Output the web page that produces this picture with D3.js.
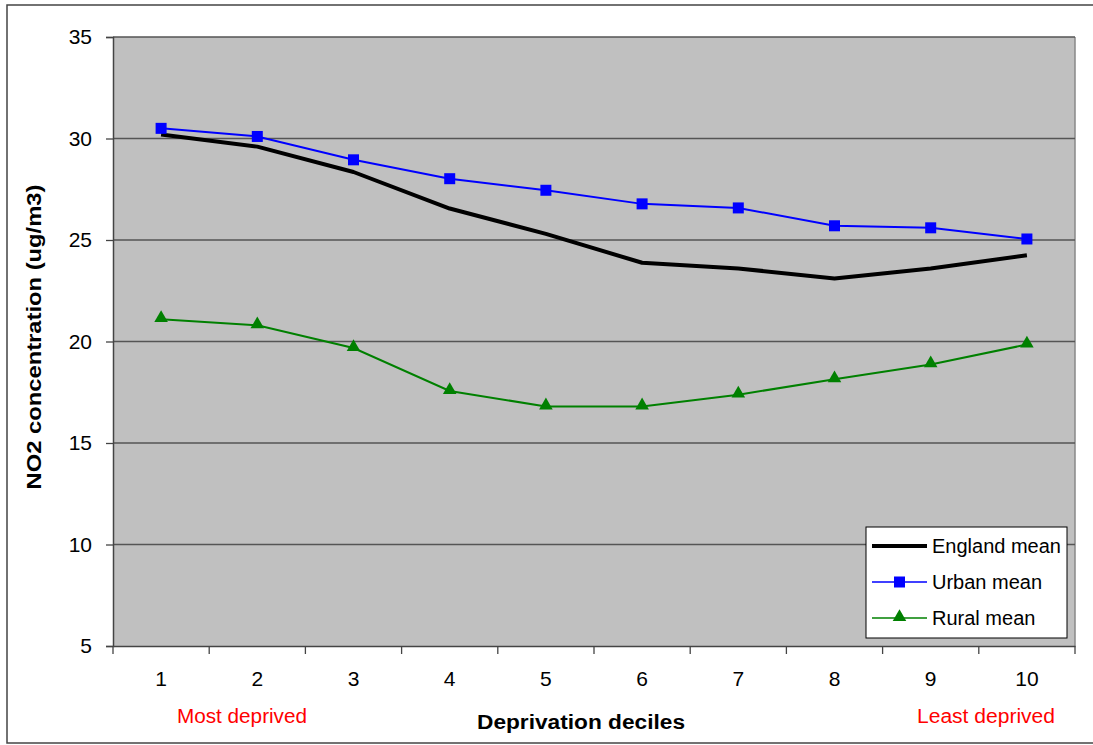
<!DOCTYPE html>
<html><head><meta charset="utf-8">
<script src="https://cdn.jsdelivr.net/npm/d3@7"></script>
<style>body{margin:0;background:#fff}svg{display:block}text{font-family:"Liberation Sans",Arial,sans-serif}</style>
</head><body>
<svg id="c" width="1093" height="745"></svg>
<script>
const deciles = ["1","2","3","4","5","6","7","8","9","10"];
const englandMean = [30.2, 29.6, 28.35, 26.55, 25.3, 23.88, 23.6, 23.1, 23.6, 24.25];
const urbanMean = [30.5, 30.1, 28.95, 28.02, 27.45, 26.78, 26.58, 25.7, 25.6, 25.05];
const ruralMean = [21.1, 20.8, 19.68, 17.56, 16.8, 16.8, 17.38, 18.14, 18.87, 19.85];
const yTicks = [5, 10, 15, 20, 25, 30, 35];

const svg = d3.select("#c");
const L = 113, R = 1075, T = 37, B = 646;
const x = d3.scaleBand().domain(deciles).range([L, R]);
const y = d3.scaleLinear().domain([5, 35]).range([B, T]);

// outer frame
svg.append("rect").attr("x", 7).attr("y", 5).attr("width", 1100).attr("height", 738)
  .attr("fill", "#fff").attr("stroke", "#444").attr("stroke-width", 1.5);

// plot background
svg.append("rect").attr("x", L).attr("y", T).attr("width", R - L).attr("height", B - T)
  .attr("fill", "#c0c0c0");
svg.append("line").attr("x1", R).attr("x2", R).attr("y1", T).attr("y2", B)
  .attr("stroke", "#888").attr("stroke-width", 1.5);

// gridlines
svg.append("g").selectAll("line").data(yTicks.filter(d => d > 5)).join("line")
  .attr("x1", L).attr("x2", R).attr("y1", d => y(d)).attr("y2", d => y(d))
  .attr("stroke", "#555").attr("stroke-width", 1.3);

// y axis
const yAxis = svg.append("g").attr("transform", `translate(${L},0)`)
  .call(d3.axisLeft(y).tickValues(yTicks).tickSize(7).tickPadding(14));
yAxis.select(".domain").attr("stroke", "#444").attr("stroke-width", 1.5);
yAxis.selectAll(".tick line").attr("stroke", "#444").attr("stroke-width", 1.3);
yAxis.selectAll(".tick text").attr("font-size", 21).attr("fill", "#000")
  .attr("font-family", "'Liberation Sans',Arial,sans-serif");

// x axis
const xAxis = svg.append("g").attr("transform", `translate(0,${B})`)
  .call(d3.axisBottom(x).tickSize(0).tickPadding(25));
xAxis.select(".domain").attr("stroke", "#444").attr("stroke-width", 1.5);
xAxis.selectAll(".tick text").attr("font-size", 21).attr("fill", "#000")
  .attr("font-family", "'Liberation Sans',Arial,sans-serif");
const bounds = deciles.map(d => x(d)).concat([R]);
svg.append("g").selectAll("line").data(bounds).join("line")
  .attr("x1", d => d).attr("x2", d => d).attr("y1", B).attr("y2", B + 8)
  .attr("stroke", "#444").attr("stroke-width", 1.3);

const cx = d => x(d) + x.bandwidth() / 2;
const line = d3.line().x((v, i) => cx(deciles[i])).y(v => y(v));

svg.append("path").attr("d", line(urbanMean)).attr("fill", "none").attr("stroke", "#0000ff").attr("stroke-width", 2);
svg.append("path").attr("d", line(englandMean)).attr("fill", "none").attr("stroke", "#000").attr("stroke-width", 4).attr("stroke-linejoin", "round");
svg.append("path").attr("d", line(ruralMean)).attr("fill", "none").attr("stroke", "#008000").attr("stroke-width", 2);

const sq = 11;
svg.append("g").selectAll("rect").data(urbanMean).join("rect")
  .attr("x", (v, i) => cx(deciles[i]) - sq / 2).attr("y", v => y(v) - sq / 2)
  .attr("width", sq).attr("height", sq).attr("fill", "#0000ff");
const tri = d3.symbol().type(d3.symbolTriangle).size(80);
svg.append("g").selectAll("path").data(ruralMean).join("path")
  .attr("d", tri).attr("transform", (v, i) => `translate(${cx(deciles[i])},${y(v) - 1})`)
  .attr("fill", "#008000");

// axis titles
svg.append("text").attr("x", 581).attr("y", 729).attr("text-anchor", "middle")
  .attr("font-size", 20).attr("font-weight", "bold")
  .attr("textLength", 208).attr("lengthAdjust", "spacingAndGlyphs").text("Deprivation deciles");
svg.append("text").attr("transform", "translate(41,337) rotate(-90)").attr("text-anchor", "middle")
  .attr("font-size", 20).attr("font-weight", "bold")
  .attr("textLength", 305).attr("lengthAdjust", "spacingAndGlyphs").text("NO2 concentration (ug/m3)");
svg.append("text").attr("x", 242).attr("y", 723).attr("text-anchor", "middle")
  .attr("font-size", 20).attr("fill", "#ff0000")
  .attr("textLength", 130).attr("lengthAdjust", "spacingAndGlyphs").text("Most deprived");
svg.append("text").attr("x", 986).attr("y", 723).attr("text-anchor", "middle")
  .attr("font-size", 20).attr("fill", "#ff0000")
  .attr("textLength", 138).attr("lengthAdjust", "spacingAndGlyphs").text("Least deprived");

// legend
const lg = svg.append("g");
lg.append("rect").attr("x", 866).attr("y", 527).attr("width", 201).attr("height", 111)
  .attr("fill", "#fff").attr("stroke", "#000").attr("stroke-width", 1);
const items = [
  {name: "England mean", color: "#000", w: 4, m: null},
  {name: "Urban mean", color: "#0000ff", w: 1.5, m: "sq"},
  {name: "Rural mean", color: "#008000", w: 1.5, m: "tri"}
];
items.forEach((it, i) => {
  const yy = 546 + i * 36;
  lg.append("line").attr("x1", 872).attr("x2", 927).attr("y1", yy).attr("y2", yy)
    .attr("stroke", it.color).attr("stroke-width", it.w);
  if (it.m === "sq") lg.append("rect").attr("x", 899.5 - 5.5).attr("y", yy - 5.5).attr("width", 11).attr("height", 11).attr("fill", it.color);
  if (it.m === "tri") lg.append("path").attr("d", tri).attr("transform", `translate(899.5,${yy - 1})`).attr("fill", it.color);
  lg.append("text").attr("x", 932).attr("y", yy + 7).attr("font-size", 20).text(it.name);
});
</script>
</body></html>
